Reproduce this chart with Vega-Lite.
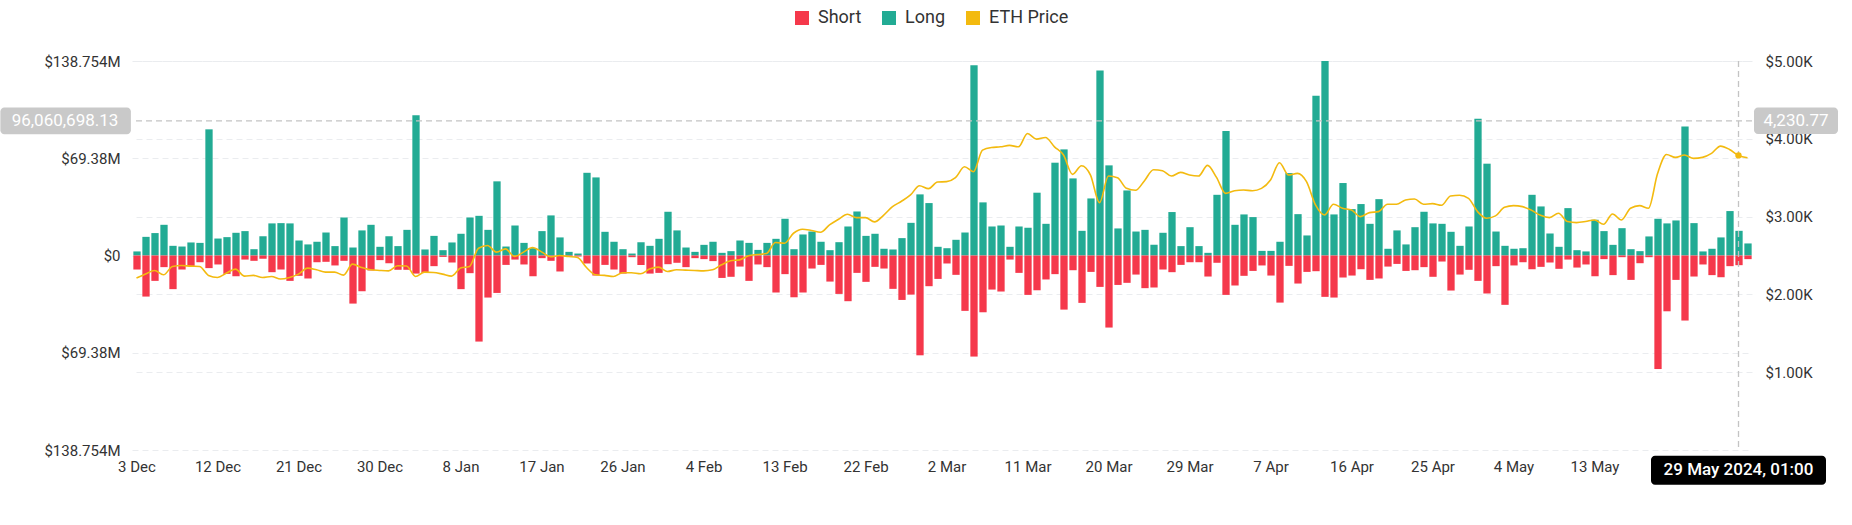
{
"$schema": "https://vega.github.io/schema/vega-lite/v6.json",
"width": 1620, "height": 389,
"autosize": {"type": "none"},
"padding": {"left": 132, "top": 61, "right": 100, "bottom": 75},
"background": "white",
"config": {
  "view": {"stroke": null},
  "font": "Roboto",
  "axis": {"labelFont": "Roboto", "labelFontSize": 15, "labelColor": "#333333", "domain": false, "ticks": false, "gridColor": "#EAECEF", "gridDash": [6, 4], "gridWidth": 1},
  "legend": {"labelFont": "Roboto"}
},
"data": {"values": [
{"date":"2023-12-03","long":2.9,"short":-10.0,"price":2210},
{"date":"2023-12-04","long":13.3,"short":-29.3,"price":2261},
{"date":"2023-12-05","long":16.0,"short":-18.1,"price":2308},
{"date":"2023-12-06","long":21.9,"short":-8.3,"price":2252},
{"date":"2023-12-07","long":6.9,"short":-24.0,"price":2359},
{"date":"2023-12-08","long":6.4,"short":-10.0,"price":2372},
{"date":"2023-12-09","long":9.3,"short":-7.4,"price":2363},
{"date":"2023-12-10","long":9.0,"short":-4.8,"price":2359},
{"date":"2023-12-11","long":90.0,"short":-9.0,"price":2244},
{"date":"2023-12-12","long":12.1,"short":-6.4,"price":2218},
{"date":"2023-12-13","long":13.1,"short":-13.1,"price":2274},
{"date":"2023-12-14","long":16.2,"short":-14.8,"price":2325},
{"date":"2023-12-15","long":17.4,"short":-2.9,"price":2235},
{"date":"2023-12-16","long":4.5,"short":-3.8,"price":2244},
{"date":"2023-12-17","long":13.8,"short":-2.4,"price":2218},
{"date":"2023-12-18","long":22.9,"short":-11.9,"price":2231},
{"date":"2023-12-19","long":23.1,"short":-10.0,"price":2197},
{"date":"2023-12-20","long":22.9,"short":-18.1,"price":2218},
{"date":"2023-12-21","long":10.7,"short":-14.5,"price":2261},
{"date":"2023-12-22","long":7.9,"short":-16.4,"price":2338},
{"date":"2023-12-23","long":9.8,"short":-4.8,"price":2316},
{"date":"2023-12-24","long":16.4,"short":-4.5,"price":2286},
{"date":"2023-12-25","long":6.7,"short":-7.1,"price":2286},
{"date":"2023-12-26","long":27.1,"short":-3.8,"price":2248},
{"date":"2023-12-27","long":5.7,"short":-34.3,"price":2389},
{"date":"2023-12-28","long":17.9,"short":-25.5,"price":2346},
{"date":"2023-12-29","long":21.9,"short":-10.7,"price":2316},
{"date":"2023-12-30","long":6.2,"short":-3.3,"price":2308},
{"date":"2023-12-31","long":13.8,"short":-5.5,"price":2303},
{"date":"2024-01-01","long":6.7,"short":-10.2,"price":2368},
{"date":"2024-01-02","long":18.3,"short":-10.2,"price":2365},
{"date":"2024-01-03","long":100.0,"short":-12.9,"price":2231},
{"date":"2024-01-04","long":4.3,"short":-12.4,"price":2286},
{"date":"2024-01-05","long":14.0,"short":-7.6,"price":2282},
{"date":"2024-01-06","long":3.8,"short":-1.0,"price":2261},
{"date":"2024-01-07","long":9.3,"short":-5.0,"price":2235},
{"date":"2024-01-08","long":15.5,"short":-24.0,"price":2338},
{"date":"2024-01-09","long":27.1,"short":-12.6,"price":2359},
{"date":"2024-01-10","long":28.3,"short":-61.4,"price":2594},
{"date":"2024-01-11","long":18.3,"short":-30.0,"price":2628},
{"date":"2024-01-12","long":52.9,"short":-26.7,"price":2543},
{"date":"2024-01-13","long":6.4,"short":-6.7,"price":2585},
{"date":"2024-01-14","long":21.4,"short":-2.9,"price":2487},
{"date":"2024-01-15","long":9.0,"short":-6.4,"price":2543},
{"date":"2024-01-16","long":5.2,"short":-14.8,"price":2603},
{"date":"2024-01-17","long":17.4,"short":-1.9,"price":2547},
{"date":"2024-01-18","long":28.6,"short":-3.8,"price":2483},
{"date":"2024-01-19","long":12.9,"short":-11.4,"price":2500},
{"date":"2024-01-20","long":2.6,"short":-0.7,"price":2487},
{"date":"2024-01-21","long":1.4,"short":-0.7,"price":2474},
{"date":"2024-01-22","long":59.0,"short":-5.7,"price":2346},
{"date":"2024-01-23","long":55.7,"short":-14.3,"price":2252},
{"date":"2024-01-24","long":16.9,"short":-6.7,"price":2244},
{"date":"2024-01-25","long":9.8,"short":-10.0,"price":2231},
{"date":"2024-01-26","long":4.5,"short":-12.9,"price":2278},
{"date":"2024-01-27","long":1.4,"short":-1.2,"price":2278},
{"date":"2024-01-28","long":9.5,"short":-6.7,"price":2265},
{"date":"2024-01-29","long":6.9,"short":-12.9,"price":2325},
{"date":"2024-01-30","long":11.9,"short":-12.4,"price":2350},
{"date":"2024-01-31","long":31.2,"short":-6.2,"price":2295},
{"date":"2024-02-01","long":17.9,"short":-5.2,"price":2316},
{"date":"2024-02-02","long":5.7,"short":-8.3,"price":2312},
{"date":"2024-02-03","long":2.6,"short":-1.9,"price":2308},
{"date":"2024-02-04","long":7.6,"short":-2.6,"price":2303},
{"date":"2024-02-05","long":9.8,"short":-4.0,"price":2316},
{"date":"2024-02-06","long":1.9,"short":-16.0,"price":2380},
{"date":"2024-02-07","long":3.1,"short":-15.2,"price":2432},
{"date":"2024-02-08","long":10.7,"short":-7.9,"price":2444},
{"date":"2024-02-09","long":9.0,"short":-18.1,"price":2496},
{"date":"2024-02-10","long":4.0,"short":-6.4,"price":2513},
{"date":"2024-02-11","long":9.0,"short":-8.3,"price":2526},
{"date":"2024-02-12","long":11.9,"short":-26.4,"price":2667},
{"date":"2024-02-13","long":26.2,"short":-13.3,"price":2658},
{"date":"2024-02-14","long":4.5,"short":-29.8,"price":2786},
{"date":"2024-02-15","long":15.0,"short":-26.4,"price":2838},
{"date":"2024-02-16","long":17.1,"short":-9.3,"price":2821},
{"date":"2024-02-17","long":9.8,"short":-6.7,"price":2799},
{"date":"2024-02-18","long":3.8,"short":-18.6,"price":2893},
{"date":"2024-02-19","long":9.5,"short":-27.4,"price":2966},
{"date":"2024-02-20","long":20.7,"short":-32.6,"price":3030},
{"date":"2024-02-21","long":31.4,"short":-12.4,"price":2987},
{"date":"2024-02-22","long":14.0,"short":-18.8,"price":2987},
{"date":"2024-02-23","long":15.5,"short":-8.1,"price":2932},
{"date":"2024-02-24","long":4.8,"short":-9.3,"price":3017},
{"date":"2024-02-25","long":4.3,"short":-23.8,"price":3128},
{"date":"2024-02-26","long":12.4,"short":-31.7,"price":3197},
{"date":"2024-02-27","long":23.3,"short":-27.9,"price":3278},
{"date":"2024-02-28","long":43.6,"short":-71.2,"price":3397},
{"date":"2024-02-29","long":37.4,"short":-21.9,"price":3359},
{"date":"2024-03-01","long":6.2,"short":-16.7,"price":3444},
{"date":"2024-03-02","long":5.2,"short":-5.7,"price":3449},
{"date":"2024-03-03","long":11.2,"short":-13.8,"price":3500},
{"date":"2024-03-04","long":16.4,"short":-39.5,"price":3641},
{"date":"2024-03-05","long":135.7,"short":-72.1,"price":3577},
{"date":"2024-03-06","long":37.9,"short":-40.5,"price":3855},
{"date":"2024-03-07","long":20.7,"short":-24.3,"price":3889},
{"date":"2024-03-08","long":21.4,"short":-25.7,"price":3897},
{"date":"2024-03-09","long":6.2,"short":-2.9,"price":3915},
{"date":"2024-03-10","long":20.7,"short":-12.4,"price":3897},
{"date":"2024-03-11","long":19.8,"short":-28.1,"price":4068},
{"date":"2024-03-12","long":44.8,"short":-24.8,"price":3996},
{"date":"2024-03-13","long":22.6,"short":-17.1,"price":4017},
{"date":"2024-03-14","long":66.2,"short":-13.3,"price":3897},
{"date":"2024-03-15","long":75.7,"short":-38.6,"price":3791},
{"date":"2024-03-16","long":55.0,"short":-10.5,"price":3543},
{"date":"2024-03-17","long":17.6,"short":-33.8,"price":3654},
{"date":"2024-03-18","long":40.7,"short":-11.7,"price":3534},
{"date":"2024-03-19","long":131.9,"short":-22.4,"price":3179},
{"date":"2024-03-20","long":64.3,"short":-51.4,"price":3521},
{"date":"2024-03-21","long":19.3,"short":-21.0,"price":3500},
{"date":"2024-03-22","long":46.4,"short":-19.5,"price":3363},
{"date":"2024-03-23","long":17.1,"short":-13.6,"price":3338},
{"date":"2024-03-24","long":18.3,"short":-23.3,"price":3462},
{"date":"2024-03-25","long":7.6,"short":-22.9,"price":3603},
{"date":"2024-03-26","long":16.2,"short":-10.0,"price":3590},
{"date":"2024-03-27","long":31.0,"short":-11.9,"price":3521},
{"date":"2024-03-28","long":6.7,"short":-6.7,"price":3568},
{"date":"2024-03-29","long":20.2,"short":-4.8,"price":3534},
{"date":"2024-03-30","long":6.7,"short":-4.8,"price":3521},
{"date":"2024-03-31","long":1.9,"short":-15.0,"price":3658},
{"date":"2024-04-01","long":43.3,"short":-5.2,"price":3504},
{"date":"2024-04-02","long":88.8,"short":-28.1,"price":3299},
{"date":"2024-04-03","long":21.9,"short":-21.4,"price":3333},
{"date":"2024-04-04","long":29.3,"short":-14.5,"price":3342},
{"date":"2024-04-05","long":27.4,"short":-11.0,"price":3333},
{"date":"2024-04-06","long":3.3,"short":-7.1,"price":3363},
{"date":"2024-04-07","long":3.3,"short":-14.3,"price":3470},
{"date":"2024-04-08","long":9.8,"short":-33.6,"price":3692},
{"date":"2024-04-09","long":58.8,"short":-7.4,"price":3534},
{"date":"2024-04-10","long":29.5,"short":-20.0,"price":3556},
{"date":"2024-04-11","long":14.3,"short":-11.7,"price":3449},
{"date":"2024-04-12","long":114.0,"short":-11.2,"price":3150},
{"date":"2024-04-13","long":138.7,"short":-29.5,"price":3021},
{"date":"2024-04-14","long":29.3,"short":-30.0,"price":3158},
{"date":"2024-04-15","long":51.7,"short":-15.7,"price":3107},
{"date":"2024-04-16","long":33.1,"short":-14.3,"price":3085},
{"date":"2024-04-17","long":36.7,"short":-9.8,"price":3000},
{"date":"2024-04-18","long":22.6,"short":-17.4,"price":3051},
{"date":"2024-04-19","long":40.2,"short":-16.4,"price":3064},
{"date":"2024-04-20","long":4.8,"short":-7.9,"price":3158},
{"date":"2024-04-21","long":17.9,"short":-6.0,"price":3158},
{"date":"2024-04-22","long":7.9,"short":-11.0,"price":3214},
{"date":"2024-04-23","long":20.2,"short":-10.5,"price":3226},
{"date":"2024-04-24","long":31.2,"short":-8.3,"price":3158},
{"date":"2024-04-25","long":22.9,"short":-15.2,"price":3167},
{"date":"2024-04-26","long":22.6,"short":-4.3,"price":3145},
{"date":"2024-04-27","long":16.9,"short":-25.0,"price":3265},
{"date":"2024-04-28","long":6.9,"short":-13.6,"price":3274},
{"date":"2024-04-29","long":20.7,"short":-10.2,"price":3235},
{"date":"2024-04-30","long":97.6,"short":-18.1,"price":3064},
{"date":"2024-05-01","long":65.5,"short":-27.1,"price":2979},
{"date":"2024-05-02","long":17.1,"short":-7.6,"price":3009},
{"date":"2024-05-03","long":6.9,"short":-35.2,"price":3120},
{"date":"2024-05-04","long":4.8,"short":-7.1,"price":3141},
{"date":"2024-05-05","long":5.2,"short":-4.8,"price":3128},
{"date":"2024-05-06","long":43.3,"short":-9.8,"price":3081},
{"date":"2024-05-07","long":35.0,"short":-8.1,"price":3017},
{"date":"2024-05-08","long":15.7,"short":-5.0,"price":2987},
{"date":"2024-05-09","long":6.2,"short":-9.5,"price":3043},
{"date":"2024-05-10","long":33.8,"short":-2.9,"price":2936},
{"date":"2024-05-11","long":3.8,"short":-8.6,"price":2923},
{"date":"2024-05-12","long":2.9,"short":-6.4,"price":2936},
{"date":"2024-05-13","long":25.5,"short":-14.8,"price":2957},
{"date":"2024-05-14","long":17.4,"short":-2.6,"price":2902},
{"date":"2024-05-15","long":7.6,"short":-14.0,"price":3034},
{"date":"2024-05-16","long":19.5,"short":-1.2,"price":2957},
{"date":"2024-05-17","long":4.5,"short":-17.4,"price":3107},
{"date":"2024-05-18","long":3.1,"short":-5.5,"price":3141},
{"date":"2024-05-19","long":13.6,"short":-1.2,"price":3107},
{"date":"2024-05-20","long":26.2,"short":-81.0,"price":3550},
{"date":"2024-05-21","long":22.9,"short":-39.8,"price":3799},
{"date":"2024-05-22","long":25.0,"short":-17.4,"price":3761},
{"date":"2024-05-23","long":92.1,"short":-46.4,"price":3791},
{"date":"2024-05-24","long":23.1,"short":-15.0,"price":3748},
{"date":"2024-05-25","long":2.9,"short":-6.4,"price":3761},
{"date":"2024-05-26","long":4.8,"short":-14.0,"price":3812},
{"date":"2024-05-27","long":12.9,"short":-15.5,"price":3906},
{"date":"2024-05-28","long":31.7,"short":-7.6,"price":3863},
{"date":"2024-05-29","long":17.6,"short":-6.9,"price":3786},
{"date":"2024-05-30","long":8.6,"short":-2.6,"price":3756}
]},
"layer": [
  {
    "layer": [
      {
        "mark": {"type": "bar", "binSpacing": 1.7},
        "encoding": {
          "x": {"field": "date", "timeUnit": "utcyearmonthdate", "type": "temporal", "title": null,
            "scale": {"type": "utc", "domain": [{"year": 2023, "month": 12, "date": 3, "utc": true}, {"year": 2024, "month": 5, "date": 31, "utc": true}], "nice": false},
            "axis": {"values": [
              {"year": 2023, "month": 12, "date": 3, "hours": 12, "utc": true},
              {"year": 2023, "month": 12, "date": 12, "hours": 12, "utc": true},
              {"year": 2023, "month": 12, "date": 21, "hours": 12, "utc": true},
              {"year": 2023, "month": 12, "date": 30, "hours": 12, "utc": true},
              {"year": 2024, "month": 1, "date": 8, "hours": 12, "utc": true},
              {"year": 2024, "month": 1, "date": 17, "hours": 12, "utc": true},
              {"year": 2024, "month": 1, "date": 26, "hours": 12, "utc": true},
              {"year": 2024, "month": 2, "date": 4, "hours": 12, "utc": true},
              {"year": 2024, "month": 2, "date": 13, "hours": 12, "utc": true},
              {"year": 2024, "month": 2, "date": 22, "hours": 12, "utc": true},
              {"year": 2024, "month": 3, "date": 2, "hours": 12, "utc": true},
              {"year": 2024, "month": 3, "date": 11, "hours": 12, "utc": true},
              {"year": 2024, "month": 3, "date": 20, "hours": 12, "utc": true},
              {"year": 2024, "month": 3, "date": 29, "hours": 12, "utc": true},
              {"year": 2024, "month": 4, "date": 7, "hours": 12, "utc": true},
              {"year": 2024, "month": 4, "date": 16, "hours": 12, "utc": true},
              {"year": 2024, "month": 4, "date": 25, "hours": 12, "utc": true},
              {"year": 2024, "month": 5, "date": 4, "hours": 12, "utc": true},
              {"year": 2024, "month": 5, "date": 13, "hours": 12, "utc": true},
              {"year": 2024, "month": 5, "date": 22, "hours": 12, "utc": true}
            ], "format": "%-d %b", "grid": false, "labelFlush": false, "labelOverlap": false, "labelPadding": 9}},
          "y": {"field": "long", "type": "quantitative", "title": null,
            "scale": {"domain": [-138.754, 138.754], "nice": false, "zero": false},
            "axis": {"values": [-138.754, -69.377, 0, 69.377, 138.754], "labelExpr": "datum.value == 0 ? '$0' : '$' + format(abs(datum.value), abs(datum.value) > 100 ? '.3f' : '.2f') + 'M'", "labelPadding": 12, "grid": true}},
          "color": {"datum": "Long", "type": "nominal",
            "scale": {"domain": ["Short", "Long", "ETH Price"], "range": ["#F5384B", "#22AB94", "#F3BA0F"]},
            "legend": {"title": null, "orient": "none", "legendX": 661, "legendY": -52, "direction": "horizontal", "symbolType": "square", "symbolSize": 196, "labelFontSize": 18, "labelColor": "#333333", "columnPadding": 18, "labelOffset": 7, "symbolStrokeWidth": 0,
              "encode": {"symbols": {"update": {"fill": {"scale": "color", "field": "value"}, "stroke": {"value": "transparent"}, "shape": {"value": "square"}, "opacity": {"value": 1}}}}}}
        }
      },
      {
        "mark": {"type": "bar", "binSpacing": 1.7},
        "encoding": {
          "x": {"field": "date", "timeUnit": "utcyearmonthdate", "type": "temporal", "title": null},
          "y": {"field": "short", "type": "quantitative", "title": null},
          "color": {"datum": "Short", "type": "nominal"}
        }
      },
      {
        "data": {"values": [{}]},
        "mark": {"type": "rule", "color": "#C4C4C4", "strokeDash": [6, 4], "strokeWidth": 1.3},
        "encoding": {"y": {"datum": 96.06069813, "type": "quantitative"}}
      },
      {
        "data": {"values": [{}]},
        "mark": {"type": "rule", "color": "#C4C4C4", "strokeDash": [6, 4], "strokeWidth": 1.3},
        "encoding": {"x": {"datum": {"year": 2024, "month": 5, "date": 29, "hours": 12, "utc": true}, "type": "temporal"}}
      },
      {
        "data": {"values": [{}]},
        "mark": {"type": "rect", "color": "#C9C9C9", "cornerRadius": 4},
        "encoding": {
          "x": {"datum": {"year": 2023, "month": 11, "date": 18, "hours": 9, "utc": true}, "type": "temporal"},
          "x2": {"datum": {"year": 2023, "month": 12, "date": 2, "hours": 21, "utc": true}},
          "y": {"datum": 105.6, "type": "quantitative"},
          "y2": {"datum": 86.5}
        }
      },
      {
        "data": {"values": [{}]},
        "mark": {"type": "text", "color": "#FFFFFF", "fontSize": 17, "align": "center", "baseline": "middle", "font": "Roboto"},
        "encoding": {
          "x": {"datum": {"year": 2023, "month": 11, "date": 25, "hours": 13, "minutes": 20, "utc": true}, "type": "temporal"},
          "y": {"datum": 96.06069813, "type": "quantitative"},
          "text": {"value": "96,060,698.13"}
        }
      },
      {
        "data": {"values": [{}]},
        "mark": {"type": "rect", "color": "#000000", "cornerRadius": 4},
        "encoding": {
          "x": {"datum": {"year": 2024, "month": 5, "date": 19, "hours": 18, "minutes": 40, "utc": true}, "type": "temporal"},
          "x2": {"datum": {"year": 2024, "month": 6, "date": 8, "hours": 5, "minutes": 20, "utc": true}},
          "y": {"datum": -142.8, "type": "quantitative"},
          "y2": {"datum": -163.5}
        }
      },
      {
        "data": {"values": [{}]},
        "mark": {"type": "text", "color": "#FFFFFF", "fontSize": 17, "fontWeight": 500, "align": "center", "baseline": "middle", "font": "Roboto"},
        "encoding": {
          "x": {"datum": {"year": 2024, "month": 5, "date": 29, "hours": 12, "utc": true}, "type": "temporal"},
          "y": {"datum": -153.2, "type": "quantitative"},
          "text": {"value": "29 May 2024, 01:00"}
        }
      }
    ]
  },
  {
    "layer": [
      {
        "mark": {"type": "line", "interpolate": "monotone", "strokeWidth": 1.6},
        "encoding": {
          "x": {"field": "date", "timeUnit": "utcyearmonthdate", "type": "temporal", "bandPosition": 0.5, "title": null},
          "y": {"field": "price", "type": "quantitative", "title": null,
            "scale": {"domain": [0, 5000], "nice": false},
            "axis": {"orient": "right", "values": [1000, 2000, 3000, 4000, 5000], "labelExpr": "'$' + format(datum.value / 1000, '.2f') + 'K'", "labelPadding": 13, "grid": true}},
          "color": {"datum": "ETH Price", "type": "nominal"}
        }
      },
      {
        "transform": [{"filter": "utcyear(datum.date) == 2024 && utcmonth(datum.date) == 4 && utcdate(datum.date) == 29"}],
        "mark": {"type": "point", "filled": true, "size": 40, "opacity": 1},
        "encoding": {
          "x": {"field": "date", "timeUnit": "utcyearmonthdate", "type": "temporal", "bandPosition": 0.5},
          "y": {"field": "price", "type": "quantitative"},
          "color": {"datum": "ETH Price", "type": "nominal"}
        }
      },
      {
        "data": {"values": [{}]},
        "mark": {"type": "rect", "color": "#C9C9C9", "cornerRadius": 4},
        "encoding": {
          "x": {"datum": {"year": 2024, "month": 5, "date": 31, "hours": 5, "minutes": 20, "utc": true}, "type": "temporal"},
          "x2": {"datum": {"year": 2024, "month": 6, "date": 9, "hours": 13, "minutes": 20, "utc": true}},
          "y": {"datum": 4400.77, "type": "quantitative"},
          "y2": {"datum": 4060.77}
        }
      },
      {
        "data": {"values": [{}]},
        "mark": {"type": "text", "color": "#FFFFFF", "fontSize": 17, "align": "center", "baseline": "middle", "font": "Roboto"},
        "encoding": {
          "x": {"datum": {"year": 2024, "month": 6, "date": 4, "hours": 21, "minutes": 20, "utc": true}, "type": "temporal"},
          "y": {"datum": 4230.77, "type": "quantitative"},
          "text": {"value": "4,230.77"}
        }
      }
    ]
  }
],
"resolve": {"scale": {"y": "independent"}}
}
